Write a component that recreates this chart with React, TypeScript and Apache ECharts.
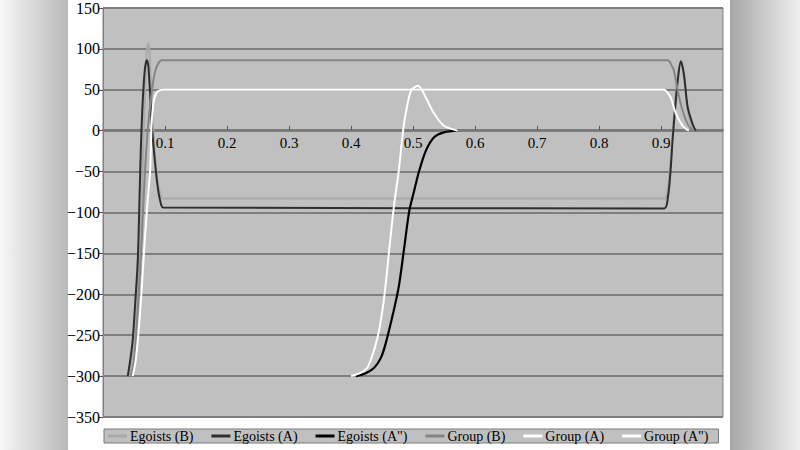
import React, { useEffect, useRef } from 'react';
import * as echarts from 'echarts';

// Series names, in legend order
const seriesNames = ['Egoists (B)', 'Egoists (A)', 'Egoists (A")', 'Group (B)', 'Group (A)', 'Group (A")'];
const seriesColors = ['#a9a9a9', '#2e2e2e', '#000000', '#858585', '#ffffff', '#ffffff'];

// [x, value] points
const egoistsB: [number, number][] = [
  [0.042, -300], [0.048, -270], [0.052, -240], [0.056, -190], [0.06, -140], [0.063, -70],
  [0.066, 10], [0.069, 70], [0.071, 100], [0.073, 107], [0.075, 98], [0.077, 60],
  [0.08, 15], [0.084, -30], [0.088, -60], [0.092, -76], [0.097, -83], [0.905, -83],
  [0.91, -76], [0.914, -50], [0.918, -10], [0.922, 30], [0.926, 62], [0.93, 80],
  [0.933, 82], [0.937, 65], [0.942, 30], [0.948, 8], [0.954, 0],
];
const egoistsA: [number, number][] = [
  [0.04, -300], [0.044, -280], [0.048, -255], [0.052, -210], [0.056, -160], [0.058, -110],
  [0.06, -50], [0.062, 0], [0.065, 49], [0.068, 78], [0.071, 86], [0.073, 80],
  [0.074, 70], [0.076, 45], [0.079, 4], [0.084, -40], [0.089, -73], [0.093, -88],
  [0.097, -94], [0.905, -95], [0.911, -82], [0.915, -53], [0.919, -8], [0.923, 29],
  [0.927, 61], [0.932, 85], [0.937, 69], [0.943, 29], [0.951, 8], [0.956, 0],
];
const egoistsA2: [number, number][] = [
  [0.408, -300], [0.422, -297], [0.437, -290], [0.448, -278], [0.456, -260], [0.468, -223],
  [0.477, -191], [0.486, -142], [0.494, -98], [0.502, -73], [0.51, -49], [0.521, -24],
  [0.534, -8], [0.55, -2], [0.572, 0],
];
const groupB: [number, number][] = [
  [0.045, -300], [0.05, -280], [0.056, -220], [0.062, -140], [0.067, -60], [0.072, 0],
  [0.076, 30], [0.08, 55], [0.084, 72], [0.089, 82], [0.095, 86], [0.911, 86],
  [0.917, 80], [0.921, 73], [0.927, 49], [0.935, 24], [0.943, 8], [0.951, 0],
];
const groupA: [number, number][] = [
  [0.048, -300], [0.053, -280], [0.058, -240], [0.062, -200], [0.066, -150], [0.071, -95],
  [0.076, -49], [0.078, 0], [0.08, 25], [0.083, 40], [0.088, 48], [0.098, 50],
  [0.905, 50], [0.911, 46], [0.916, 40], [0.924, 21], [0.935, 6], [0.945, 0],
];
const groupA2: [number, number][] = [
  [0.4, -300], [0.415, -296], [0.427, -289], [0.443, -252], [0.453, -207], [0.461, -150],
  [0.469, -94], [0.477, -49], [0.484, 0], [0.489, 24], [0.497, 49], [0.508, 55],
  [0.521, 40], [0.534, 21], [0.55, 6], [0.572, 0],
];

const seriesData = [egoistsB, egoistsA, egoistsA2, groupB, groupA, groupA2];

const serif = "'Liberation Serif', serif";

const App: React.FC = () => {
  const ref = useRef<HTMLDivElement>(null);

  useEffect(() => {
    if (!ref.current) return;
    const chart = echarts.init(ref.current, null, { renderer: 'svg' });

    const option: echarts.EChartsOption = {
      animation: false,
      backgroundColor: 'transparent',
      textStyle: { fontFamily: serif },
      grid: {
        left: 103,
        right: 77,
        top: 7,
        bottom: 33,
        show: true,
        backgroundColor: '#c0c0c0',
        borderColor: '#808080',
        borderWidth: 1,
      },
      legend: {
        data: seriesNames,
        left: 104,
        top: 429,
        width: 640,
        backgroundColor: '#c0c0c0',
        borderColor: '#7a7a7a',
        borderWidth: 1,
        borderRadius: 0,
        padding: [0, 10, 0, 4],
        itemGap: 18,
        itemWidth: 19,
        itemHeight: 3,
        icon: 'rect',
        textStyle: { fontFamily: serif, fontSize: 14, color: '#000', padding: [0, 0, 0, -2] },
      },
      // x axis drawn across the zero line: offset moves it up from the grid bottom
      xAxis: {
        type: 'value',
        min: 0,
        max: 1,
        interval: 0.1,
        position: 'bottom',
        offset: -287,
        axisLine: { onZero: false, lineStyle: { color: '#7a7a7a', width: 2 } },
        axisTick: { inside: true, length: 4, lineStyle: { color: '#555' } },
        axisLabel: {
          showMinLabel: false,
          showMaxLabel: false,
          fontFamily: serif,
          fontSize: 15,
          color: '#000',
          margin: 5,
        },
        splitLine: { show: false },
      },
      yAxis: {
        type: 'value',
        min: -350,
        max: 150,
        interval: 50,
        axisLine: { show: true, onZero: false, lineStyle: { color: '#808080' } },
        axisTick: { show: true, length: 4, lineStyle: { color: '#555' } },
        axisLabel: {
          fontFamily: serif,
          fontSize: 16,
          color: '#000',
          margin: 3,
          formatter: (v: number) => String(v).replace('-', '\u2212'),
        },
        splitLine: { show: true, lineStyle: { color: '#7e7e7e', width: 2 } },
      },
      series: seriesNames.map((name, i) => ({
        name,
        type: 'line',
        data: seriesData[i],
        showSymbol: false,
        smooth: 0.3,
        color: seriesColors[i],
        lineStyle: { color: seriesColors[i], width: i === 2 ? 2.2 : 2 },
      })),
    };

    chart.setOption(option);
    return () => {
      chart.dispose();
    };
  }, []);

  return (
    <div
      style={{
        position: 'fixed',
        left: 0,
        top: 0,
        width: 800,
        height: 450,
        background:
          'linear-gradient(to right, #f7f7f7 0px, #b9b9b9 68px, #ffffff 68px, #ffffff 730px, #a6a6a6 730px, #f0f0f0 800px)',
      }}
    >
      <div ref={ref} style={{ width: 800, height: 450 }} />
    </div>
  );
};

export default App;
